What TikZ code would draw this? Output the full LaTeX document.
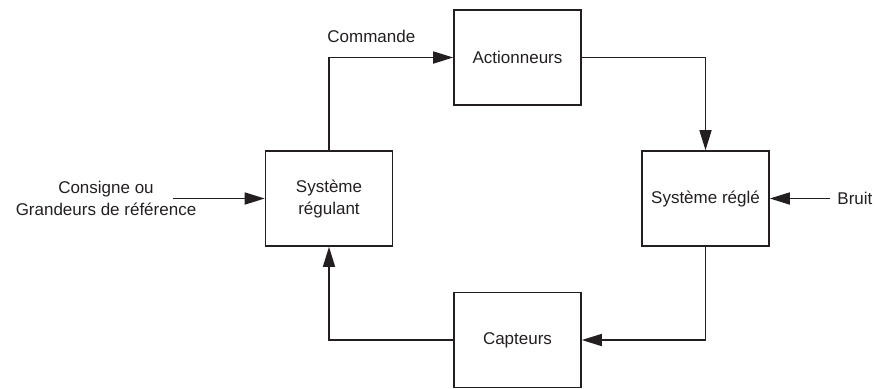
\documentclass[tikz,border=0pt]{standalone}
\usepackage{fontspec}
\setmainfont{Liberation Sans}
\usetikzlibrary{arrows.meta}
\definecolor{ink}{HTML}{231F20}
\begin{document}
\begin{tikzpicture}[x=0.5pt,y=-0.5pt,
  font=\fontsize{8.5}{11}\selectfont,
  block/.style={draw=ink,line width=0.8pt,text=ink,align=center,
    minimum width=63.5pt,minimum height=47.5pt,inner sep=0pt},
  flow/.style={draw=ink,line width=0.8pt,
    -{Triangle[length=10pt,width=6pt]}},
  lbl/.style={text=ink,align=center,inner sep=0pt}]
\useasboundingbox (0,0) rectangle (876,388);

% blocks of the control loop
\node[block] (act)   at (517.5,57.5)  {Actionneurs};
\node[block] (reg)   at (329,198.5)   {Système\\régulant};
\node[block] (regle) at (705.5,198.5) {Système réglé};
\node[block] (capt)  at (517.5,340)   {Capteurs};

% external inputs
\coordinate (in)    at (173,198.5);
\coordinate (noise) at (830,198.5);
\node[lbl] (consigne) at (106,198.5) {Consigne ou\\Grandeurs de référence};
\node[lbl,anchor=west] (bruit) at (837,198.5) {Bruit};
\node[lbl,anchor=west] (cmd) at (327,36) {Commande};

% loop connections
\draw[flow] (reg.north) |- (act.west);
\draw[flow] (act.east) -| (regle.north);
\draw[flow] (regle.south) |- (capt.east);
\draw[flow] (capt.west) -| (reg.south);
\draw[flow] (in) -- (reg.west);
\draw[flow] (noise) -- (regle.east);
\end{tikzpicture}
\end{document}
